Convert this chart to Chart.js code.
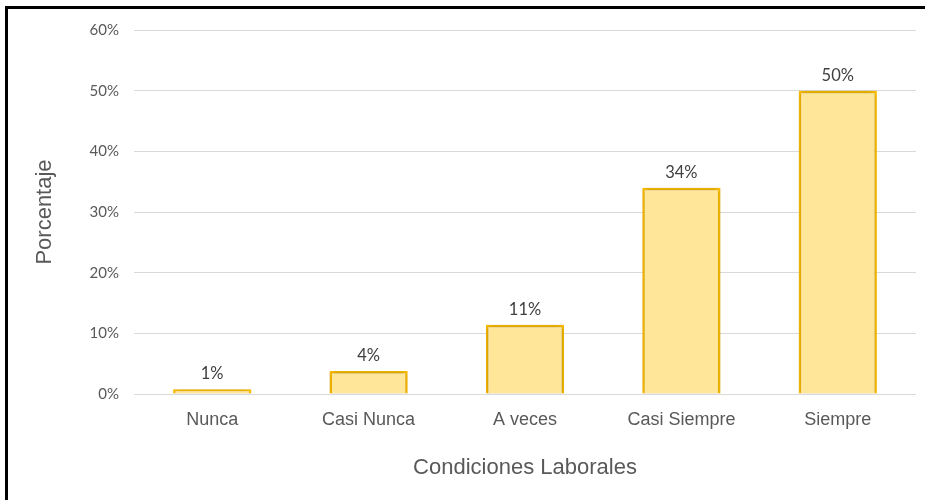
<!DOCTYPE html>
<html>
<head>
<meta charset="utf-8">
<script src="https://cdn.jsdelivr.net/npm/chart.js@4.4.1/dist/chart.umd.min.js"></script>
<style>
  html, body { margin: 0; padding: 0; background: #fff; }
  #wrap { position: relative; width: 925px; height: 500px; overflow: hidden; }
  #frame { position: absolute; left: 5px; top: 6px; right: 0; bottom: 0;
           border-left: 3px solid #000; border-top: 3px solid #000; pointer-events: none; }
  canvas { position: absolute; left: 0; top: 0; }
</style>
</head>
<body>
<div id="wrap">
  <canvas id="chart" width="925" height="500"></canvas>
  <div id="frame"></div>
</div>
<script>
const categories = ['Nunca', 'Casi Nunca', 'A veces', 'Casi Siempre', 'Siempre'];
const values = [0.8, 3.8, 11.4, 34.0, 50.0];
const yTicks = [0, 10, 20, 30, 40, 50, 60];

// etiquetas de datos encima de cada barra
const barLabels = {
  id: 'barLabels',
  afterDatasetsDraw(chart) {
    const ctx = chart.ctx;
    const meta = chart.getDatasetMeta(0);
    ctx.save();
    ctx.font = '16.5px Lato';
    ctx.fillStyle = '#404040';
    ctx.textAlign = 'center';
    ctx.textBaseline = 'bottom';
    meta.data.forEach((bar, i) => {
      ctx.fillText(Math.round(values[i]) + '%', bar.x, bar.y - 7);
    });
    ctx.restore();
  }
};

// sombra suave de las barras
const barShadow = {
  id: 'barShadow',
  beforeDatasetsDraw(chart) {
    const ctx = chart.ctx;
    ctx.save();
    ctx.shadowColor = 'rgba(0,0,0,0.3)';
    ctx.shadowBlur = 5;
  },
  afterDatasetsDraw(chart) {
    chart.ctx.restore();
  }
};

new Chart(document.getElementById('chart'), {
  type: 'bar',
  data: {
    labels: categories,
    datasets: [{
      data: values,
      backgroundColor: '#FFE699',
      borderColor: '#FFC000',
      borderWidth: 2.5,
      categoryPercentage: 1,
      barPercentage: 0.5
    }]
  },
  options: {
    responsive: false,
    animation: false,
    layout: { padding: { left: 0, right: 9, top: 30, bottom: 0 } },
    plugins: {
      legend: { display: false },
      tooltip: { enabled: false }
    },
    scales: {
      x: {
        grid: { display: false },
        border: { display: false },
        ticks: {
          color: '#595959',
          padding: 7,
          font: { family: 'Liberation Sans', size: 18 }
        },
        title: {
          display: true,
          text: 'Condiciones Laborales',
          color: '#595959',
          font: { family: 'Liberation Sans', size: 22 },
          padding: { top: 0, bottom: 19 }
        },
        afterFit(scale) { scale.height = 106; }
      },
      y: {
        min: 0,
        max: 60,
        afterBuildTicks(scale) { scale.ticks = yTicks.map(v => ({ value: v })); },
        grid: { color: '#D9D9D9', lineWidth: 1, drawTicks: false },
        border: { display: false },
        ticks: {
          color: '#595959',
          padding: 15,
          font: { family: 'Lato', size: 15 },
          callback: v => v + '%'
        },
        title: {
          display: true,
          text: 'Porcentaje',
          color: '#595959',
          font: { family: 'Liberation Sans', size: 22 },
          padding: { top: 32, bottom: 0 }
        },
        afterFit(scale) { scale.width = 134; }
      }
    }
  },
  plugins: [barShadow, barLabels]
});
</script>
</body>
</html>
